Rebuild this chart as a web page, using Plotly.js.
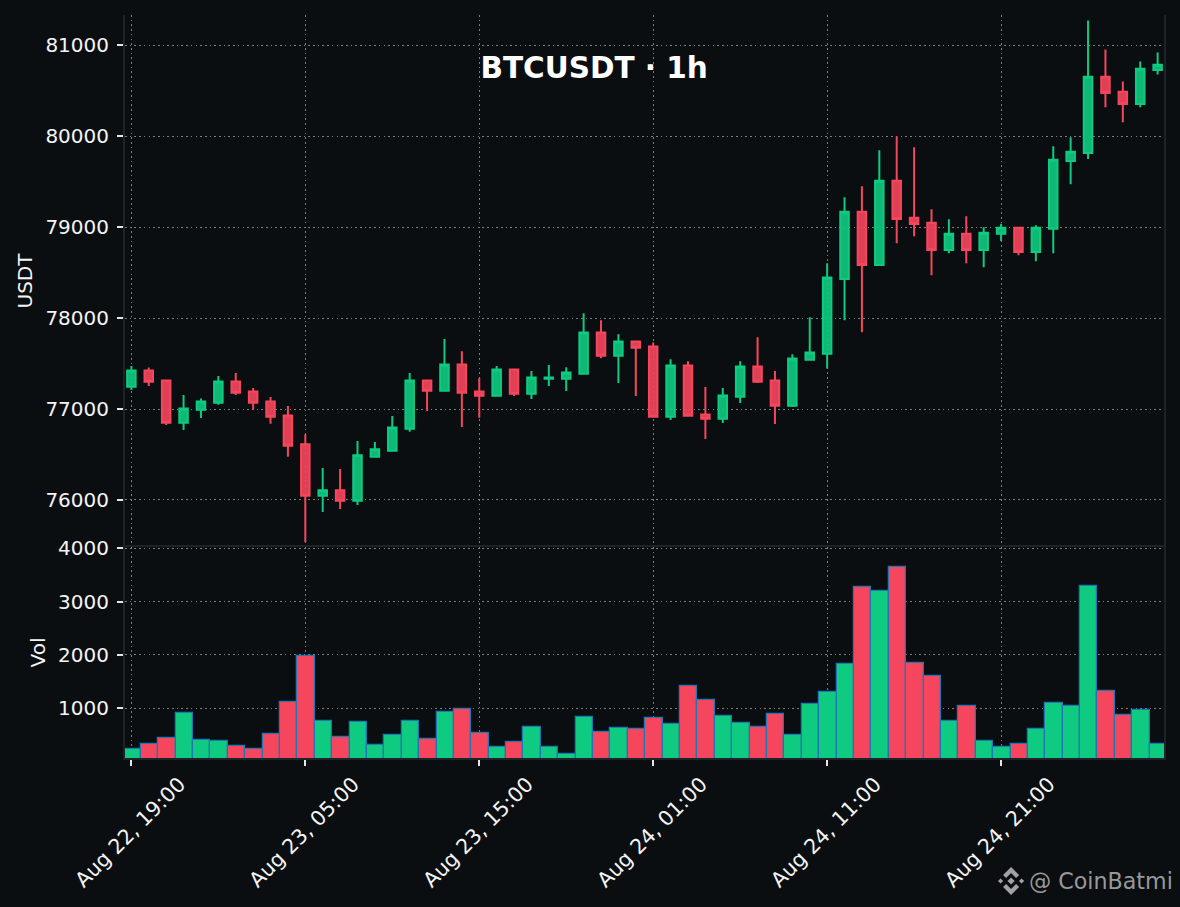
<!DOCTYPE html>
<html>
<head>
<meta charset="utf-8">
<script src="https://cdn.plot.ly/plotly-3.0.1.min.js"></script>
<style>html,body{margin:0;padding:0;background:#0b0e11}</style>
</head>
<body>
<div id="chart" style="width:1180px;height:907px"></div>
<script>
const times = [
"2025-08-22 19:00","2025-08-22 20:00","2025-08-22 21:00","2025-08-22 22:00","2025-08-22 23:00",
"2025-08-23 00:00","2025-08-23 01:00","2025-08-23 02:00","2025-08-23 03:00","2025-08-23 04:00",
"2025-08-23 05:00","2025-08-23 06:00","2025-08-23 07:00","2025-08-23 08:00","2025-08-23 09:00",
"2025-08-23 10:00","2025-08-23 11:00","2025-08-23 12:00","2025-08-23 13:00","2025-08-23 14:00",
"2025-08-23 15:00","2025-08-23 16:00","2025-08-23 17:00","2025-08-23 18:00","2025-08-23 19:00",
"2025-08-23 20:00","2025-08-23 21:00","2025-08-23 22:00","2025-08-23 23:00","2025-08-24 00:00",
"2025-08-24 01:00","2025-08-24 02:00","2025-08-24 03:00","2025-08-24 04:00","2025-08-24 05:00",
"2025-08-24 06:00","2025-08-24 07:00","2025-08-24 08:00","2025-08-24 09:00","2025-08-24 10:00",
"2025-08-24 11:00","2025-08-24 12:00","2025-08-24 13:00","2025-08-24 14:00","2025-08-24 15:00",
"2025-08-24 16:00","2025-08-24 17:00","2025-08-24 18:00","2025-08-24 19:00","2025-08-24 20:00",
"2025-08-24 21:00","2025-08-24 22:00","2025-08-24 23:00","2025-08-25 00:00","2025-08-25 01:00",
"2025-08-25 02:00","2025-08-25 03:00","2025-08-25 04:00","2025-08-25 05:00","2025-08-25 06:00"];
const opens = [77245,77425,77315,76850,76993,77070,77304,77194,77084,76930,
76612,76048,76106,75993,76476,76542,76784,77315,77201,77491,
77194,77147,77436,77168,77333,77333,77388,77842,77586,77744,
77689,76916,77480,76941,76894,77135,77469,77315,77037,77542,
77608,78432,79172,78586,79513,79106,79051,78751,78930,78751,
78930,78996,78729,78985,79729,79817,80656,80491,80355,80729];
const highs = [77473,77458,77315,77154,77117,77363,77396,77231,77132,77033,
76722,76352,76341,76648,76637,76923,77396,77315,77770,77637,
77341,77473,77436,77418,77484,77461,78055,77978,77824,77744,
77733,77549,77527,77242,77231,77527,77791,77418,77604,78011,
78604,79330,79451,79846,80000,79879,79198,79088,79121,79000,
79040,78996,79022,79890,79989,81275,80956,80604,80824,80923];
const lows = [77209,77253,76824,76769,76901,77048,77154,76993,76839,76476,
75538,75868,75901,75945,76465,76542,76751,76978,77190,76802,
76905,77147,77143,77110,77253,77198,77388,77560,77286,77143,
76916,76879,76927,76670,76846,77066,77286,76835,77022,77542,
77447,77978,77846,78586,78824,78901,78473,78714,78604,78560,
78850,78692,78626,78714,79473,79751,80319,80154,80319,80681];
const closes = [77425,77300,76850,77007,77084,77304,77180,77070,76916,76597,
76048,76106,75993,76491,76557,76798,77315,77201,77491,77179,
77147,77436,77168,77348,77348,77403,77842,77586,77744,77674,
76916,77480,76927,76894,77150,77469,77300,77037,77557,77623,
78447,79172,78586,79513,79092,79037,78751,78930,78751,78941,
78996,78729,78996,79744,79831,80656,80476,80355,80744,80787];
const volumes = [245,338,450,915,412,394,300,245,530,1120,
1990,768,468,748,318,505,768,430,935,990,
543,282,374,655,282,150,842,561,636,617,
823,711,1420,1158,860,730,655,898,505,1085,
1308,1830,3270,3195,3642,1850,1607,768,1046,394,
282,338,617,1102,1046,3287,1327,879,972,338];
const tickTimes = ["2025-08-22 19:00","2025-08-23 05:00","2025-08-23 15:00","2025-08-24 01:00","2025-08-24 11:00","2025-08-24 21:00"];
const tickLabels = ["Aug 22, 19:00","Aug 23, 05:00","Aug 23, 15:00","Aug 24, 01:00","Aug 24, 11:00","Aug 24, 21:00"];
const priceTicks = [76000,77000,78000,79000,80000,81000];
const volTicks = [1000,2000,3000,4000];

const UP = '#0ecb81', DOWN = '#f6465d', BG = '#0b0e11', GRID = 'rgba(200,200,200,0.6)', EDGE = '#1e2329';
const DASH = '1.6px,3.1px', TICKCOLOR = '#e6e6e6', TEXT = '#f4f4f4';
const FONT = '"DejaVu Sans", sans-serif';
const W = 1180, H = 907;
const ML = 124.5, MR = 16, MT = 15, MB = 149;
const plotW = W - ML - MR, plotH = H - MT - MB;
const px = v => (v - ML) / plotW, py = v => (H - MB - v) / plotH;

const candle = {
  type: 'candlestick', x: times, open: opens, high: highs, low: lows, close: closes,
  xaxis: 'x', yaxis: 'y', showlegend: false,
  increasing: {line: {color: UP, width: 2}, fillcolor: 'rgba(14,203,129,0.9)'},
  decreasing: {line: {color: DOWN, width: 2}, fillcolor: 'rgba(246,70,93,0.9)'}
};
const vol = {
  type: 'bar', x: times, y: volumes, xaxis: 'x', yaxis: 'y2', showlegend: false,
  width: 3600000, offset: -1650000,
  marker: {color: closes.map((c, i) => c >= opens[i] ? UP : DOWN), line: {color: '#1f77b4', width: 1.25}}
};

function diamond(cx, cy, r) {
  return `M${px(cx - r)} ${py(cy)} L${px(cx)} ${py(cy - r)} L${px(cx + r)} ${py(cy)} L${px(cx)} ${py(cy + r)} Z`;
}
const logoColor = 'rgba(200,200,200,0.8)';
const logoShape = path => ({type: 'path', xref: 'paper', yref: 'paper', path, fillcolor: logoColor, line: {width: 0}});
const chevron = (pts) => 'M' + pts.map(p => `${px(p[0])} ${py(p[1])}`).join(' L') + ' Z';
const logo = [
  logoShape(diamond(1011, 881, 3.6)),
  logoShape(diamond(1000.5, 881, 2.6)),
  logoShape(diamond(1021.5, 881, 2.6)),
  logoShape(chevron([[1011,867],[1019,875],[1016,878],[1011,873],[1006,878],[1003,875]])),
  logoShape(chevron([[1011,895],[1019,887],[1016,884],[1011,889],[1006,884],[1003,887]]))
];

const TICK = 20;
const layout = {
  width: W, height: H,
  paper_bgcolor: BG, plot_bgcolor: BG,
  font: {family: FONT, color: TEXT, size: TICK},
  margin: {l: ML, r: MR, t: MT, b: MB},
  title: {text: '<b>BTCUSDT · 1h</b>', x: 0.5035, xref: 'container', xanchor: 'center',
          y: 0.925, yref: 'container', yanchor: 'middle', font: {family: FONT, size: 29.5, color: '#ffffff'}},
  bargap: 0,
  hovermode: false,
  xaxis: {
    type: 'date', anchor: 'y2', domain: [0, 1],
    range: ["2025-08-22 18:38", "2025-08-25 06:22"],
    rangeslider: {visible: false},
    tickmode: 'array', tickvals: tickTimes, ticktext: tickLabels, tickangle: -45,
    ticklabelshift: 48, ticklabelstandoff: -2,
    tickfont: {family: FONT, size: 20.6, color: TEXT},
    ticks: 'outside', ticklen: 6, tickwidth: 2, tickcolor: TICKCOLOR,
    showgrid: true, gridcolor: GRID, griddash: DASH, gridwidth: 1.4,
    showline: true, linecolor: EDGE, linewidth: 2, mirror: true, zeroline: false
  },
  yaxis: {
    domain: [0.284, 1], anchor: 'x', range: [75483, 81335],
    tickmode: 'array', tickvals: priceTicks, ticktext: priceTicks.map(String),
    tickfont: {family: FONT, size: TICK, color: TEXT},
    ticks: 'outside', ticklen: 6, tickwidth: 2, tickcolor: TICKCOLOR, ticklabelstandoff: 4,
    title: {text: 'USDT', font: {family: FONT, size: TICK, color: TEXT}, standoff: 7},
    showgrid: true, gridcolor: GRID, griddash: DASH, gridwidth: 1.4,
    showline: true, linecolor: EDGE, linewidth: 2, mirror: true, zeroline: false
  },
  yaxis2: {
    domain: [0, 0.284], anchor: 'x', range: [72, 4020],
    tickmode: 'array', tickvals: volTicks, ticktext: volTicks.map(String),
    tickfont: {family: FONT, size: TICK, color: TEXT},
    ticks: 'outside', ticklen: 6, tickwidth: 2, tickcolor: TICKCOLOR, ticklabelstandoff: 4,
    title: {text: 'Vol', font: {family: FONT, size: TICK, color: TEXT}, standoff: 7},
    showgrid: true, gridcolor: GRID, griddash: DASH, gridwidth: 1.4,
    showline: true, linecolor: EDGE, linewidth: 2, mirror: true, zeroline: false
  },
  annotations: [{
    text: '@ CoinBatmi', xref: 'paper', yref: 'paper',
    x: px(1175), y: py(881), xanchor: 'right', yanchor: 'middle', showarrow: false,
    font: {family: FONT, size: 22.2, color: 'rgba(200,200,200,0.75)'}
  }],
  shapes: logo
};

Plotly.newPlot('chart', [candle, vol], layout, {displayModeBar: false, responsive: false});
</script>
</body>
</html>
